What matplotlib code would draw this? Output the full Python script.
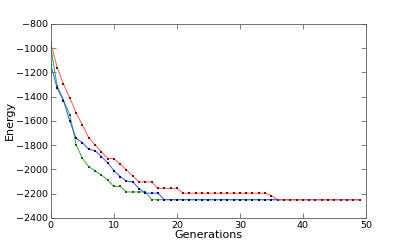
import numpy as np
import matplotlib
matplotlib.use("Agg")
import matplotlib.pyplot as plt

generations = np.arange(50)

energy_red = [-960, -1160, -1295, -1410, -1531, -1635, -1737, -1798, -1853, -1911,
              -1911, -1957, -2004, -2054, -2103, -2103, -2103, -2157, -2157, -2157,
              -2157] + [-2196] * 14 + [-2216] + [-2250] * 14

energy_blue = [-1140, -1330, -1432, -1600, -1743, -1779, -1834, -1845, -1894, -1944,
               -2010, -2059, -2097, -2103, -2158, -2196, -2196, -2196] + [-2250] * 32

energy_green = [-1000, -1310, -1430, -1548, -1795, -1908, -1977, -2010, -2045, -2087,
                -2141, -2141, -2186, -2186, -2186, -2186] + [-2250] * 34

fig = plt.figure(figsize=(4.07, 2.44), dpi=100)
ax = fig.add_axes([0.125, 0.107, 0.774, 0.795])

######## series: line light, marker dark ########
for vals, lc, mc in [(energy_green, '#33aa33', '#116611'),
                     (energy_blue, '#3355ff', '#00007a'),
                     (energy_red, '#ff5555', '#8b0000')]:
    ax.plot(generations, vals, '-', color=lc, lw=0.7)
    ax.plot(generations, vals, 's', color=mc, ms=1.6, mew=0)

ax.set_xlim(0, 50)
ax.set_ylim(-2400, -800)
ax.set_xticks(range(0, 51, 10))
ax.set_yticks(range(-2400, -799, 200))
ax.tick_params(direction='in', length=3.5, width=0.5, labelsize=6.8,
               top=True, right=True, pad=2, color='0.3')
for s in ax.spines.values():
    s.set_linewidth(0.6)
    s.set_color('0.35')

ax.set_xlabel('Generations', fontsize=8, labelpad=0)
ax.set_ylabel('Energy', fontsize=8, labelpad=1)

fig.savefig('out.png', dpi=100)
